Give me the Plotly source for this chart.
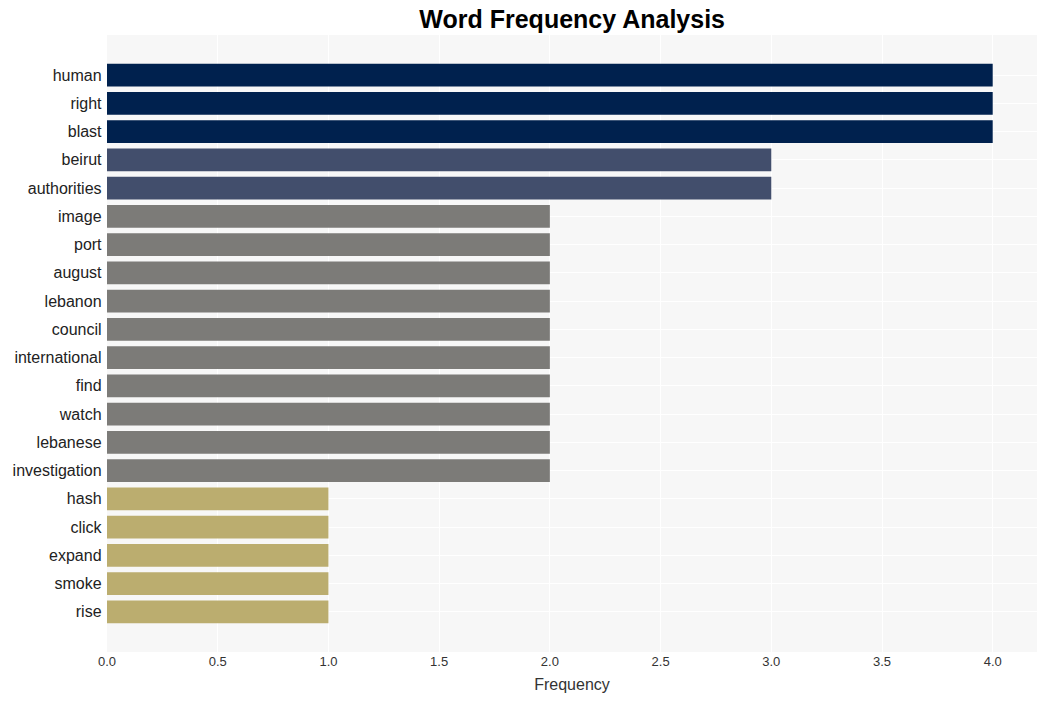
import plotly.graph_objects as go

words = ["human", "right", "blast", "beirut", "authorities", "image", "port", "august",
         "lebanon", "council", "international", "find", "watch", "lebanese", "investigation",
         "hash", "click", "expand", "smoke", "rise"]
freqs = [4, 4, 4, 3, 3, 2, 2, 2, 2, 2, 2, 2, 2, 2, 2, 1, 1, 1, 1, 1]
color_map = {4: "#00214e", 3: "#424e6c", 2: "#7c7b78", 1: "#bbad6f"}

fig = go.Figure(go.Bar(
    x=freqs, y=words, orientation="h",
    marker=dict(color=[color_map[f] for f in freqs], line=dict(width=0)),
    width=0.8,
))
fig.update_layout(
    width=1047, height=701,
    margin=dict(l=107, r=10, t=35, b=49),
    paper_bgcolor="white", plot_bgcolor="#f7f7f7",
    title=dict(text="<b>Word Frequency Analysis</b>", x=0.5465, xanchor="center",
               y=0.972, yanchor="middle",
               font=dict(family="Arial, Liberation Sans", size=25, color="black")),
    font=dict(family="Arial, Liberation Sans", color="#333"),
    showlegend=False,
)
fig.update_xaxes(range=[0, 4.2], dtick=0.5, tickformat=".1f", gridcolor="white", gridwidth=1,
                 zeroline=False, title=dict(text="Frequency", font=dict(size=16, color="#333"), standoff=10),
                 tickfont=dict(size=13, color="#333"))
fig.update_yaxes(categoryorder="array", categoryarray=words, range=[20.42, -1.42],
                 gridcolor="white", tickfont=dict(size=16, color="#222"), ticksuffix=" ")
fig.write_html("out.html")
